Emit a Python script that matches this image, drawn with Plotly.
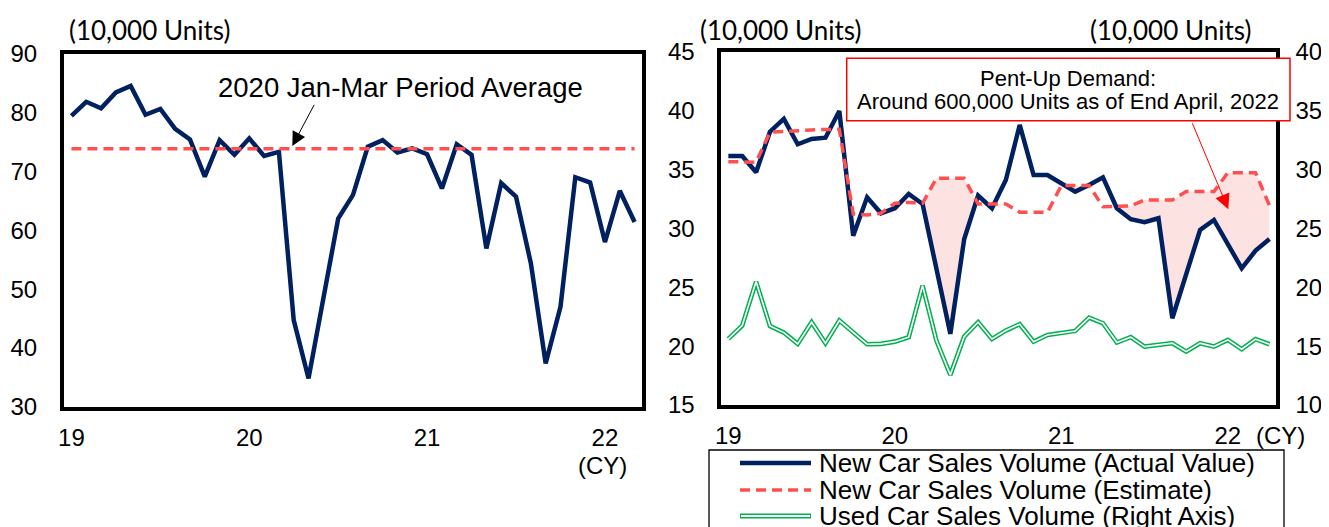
import plotly.graph_objects as go
import numpy as np

W, H = 1329, 527
PAGE_OFFSET = 8  # default page margin around the figure div

# ---------------- data ----------------
month_labels = [f"{y}-{m:02d}" for y in range(2019, 2023) for m in range(1, 13)]
months_left = month_labels[:39]    # Jan 2019 - Mar 2022
months_right = month_labels[:40]   # Jan 2019 - Apr 2022
year_ticks = ["2019-01", "2020-01", "2021-01", "2022-01"]
year_tick_text = ["19", "20", "21", "22"]

# Left panel: new car sales volume (10,000 units)
new_car_sales = [79.4, 81.8, 80.7, 83.4, 84.5, 79.6, 80.6, 77.2, 75.4, 69.1, 75.3, 72.8,
                 75.6, 72.6, 73.3, 44.75, 34.85, 48.15, 62.0, 66.0, 74.2, 75.3, 73.2, 73.9,
                 72.9, 67.1, 74.6, 72.8, 56.9, 68.0, 65.7, 54.4, 37.4, 47.0, 69.0, 68.1,
                 58.0, 66.7, 61.4]
jan_mar_2020_average = 73.85

# Right panel
new_car_actual = [36.15, 36.15, 34.76, 38.21, 39.29, 37.14, 37.59, 37.7, 39.97, 29.38, 32.64, 31.28,
                  31.71, 32.92, 32.07, 26.55, 21.04, 29.1, 32.78, 31.71, 34.11, 38.78, 34.53, 34.53,
                  33.83, 33.12, 33.68, 34.33, 31.71, 30.77, 30.52, 30.86, 22.37, 26.19, 29.86, 30.71,
                  28.68, 26.61, 28.11, 29.1]
new_car_estimate = [35.66, 35.66, 35.62, 38.16, 38.2, 38.3, 38.35, 38.4, 38.41, 31.22, 31.14, 31.28,
                    32.13, 32.2, 32.13, 34.25, 34.25, 34.25, 32.07, 32.07, 32.07, 31.37, 31.37, 31.37,
                    33.63, 33.63, 33.63, 31.84, 31.84, 31.9, 32.41, 32.41, 32.41, 33.12, 33.12, 33.12,
                    34.73, 34.73, 34.73, 31.93]
used_car_sales = [15.61, 16.74, 20.48, 16.71, 16.15, 15.19, 17.03, 15.25, 17.17, 16.15, 15.16, 15.19,
                  15.38, 15.76, 20.14, 15.45, 12.56, 15.81, 17.03, 15.61, 16.32, 16.86, 15.38, 15.95,
                  16.15, 16.29, 17.42, 16.94, 15.3, 15.76, 14.96, 15.1, 15.25, 14.53, 15.25, 14.96,
                  15.53, 14.74, 15.59, 15.16]
pent_up_start = 14  # shading of pent-up demand starts Mar 2020

legend_labels = ["New Car Sales Volume (Actual Value)",
                 "New Car Sales Volume (Estimate)",
                 "Used Car Sales Volume (Right Axis)"]

# ---------------- styles ----------------
NAVY = "#002060"
RED = "#FF5050"
GREEN = "#00B050"
PINK = "#FDE2E2"
FONT = "Liberation Sans, Arial, sans-serif"
LABEL_FONT = "Lato, Liberation Sans, sans-serif"


def px(x):
    return (x - PAGE_OFFSET) / W


def py(y):
    return 1 - (y - PAGE_OFFSET) / H


fig = go.Figure()

# Left panel
fig.add_trace(go.Scatter(x=months_left, y=new_car_sales, mode="lines",
                         line=dict(color=NAVY, width=4.5), xaxis="x", yaxis="y",
                         showlegend=False))
fig.add_trace(go.Scatter(x=months_left, y=[jan_mar_2020_average] * len(months_left), mode="lines",
                         line=dict(color=RED, width=3.5, dash="10px,6px"), xaxis="x", yaxis="y",
                         showlegend=False))

# Right panel: pent-up demand shading
act = np.array(new_car_actual)
est = np.array(new_car_estimate)
lower = np.minimum(act, est)
fig.add_trace(go.Scatter(x=months_right[pent_up_start:], y=lower[pent_up_start:], mode="lines",
                         line=dict(width=0, color=PINK), xaxis="x2", yaxis="y2",
                         showlegend=False, hoverinfo="skip"))
fig.add_trace(go.Scatter(x=months_right[pent_up_start:], y=est[pent_up_start:], mode="lines",
                         line=dict(width=0, color=PINK), fill="tonexty", fillcolor=PINK,
                         xaxis="x2", yaxis="y2", showlegend=False, hoverinfo="skip"))
# Used car (double line) on right axis
fig.add_trace(go.Scatter(x=months_right, y=used_car_sales, mode="lines",
                         line=dict(color=GREEN, width=4.6), xaxis="x2", yaxis="y3",
                         showlegend=False))
fig.add_trace(go.Scatter(x=months_right, y=used_car_sales, mode="lines",
                         line=dict(color="white", width=1.6), xaxis="x2", yaxis="y3",
                         showlegend=False, hoverinfo="skip"))
fig.add_trace(go.Scatter(x=months_right, y=new_car_actual, mode="lines",
                         line=dict(color=NAVY, width=4.5), xaxis="x2", yaxis="y2",
                         showlegend=False))
fig.add_trace(go.Scatter(x=months_right, y=new_car_estimate, mode="lines",
                         line=dict(color=RED, width=3.5, dash="10px,6px"), xaxis="x2", yaxis="y2",
                         showlegend=False))

axis_common = dict(showline=True, linewidth=4, linecolor="black", mirror=True,
                   showgrid=False, zeroline=False, ticks="", automargin=False,
                   tickfont=dict(family=FONT, size=24, color="black"))

fig.update_layout(
    width=W, height=H,
    margin=dict(l=0, r=0, t=0, b=0, pad=0, autoexpand=False),
    paper_bgcolor="white", plot_bgcolor="white",
    showlegend=False,
    xaxis=dict(domain=[px(64), px(642)], type="category", range=[-0.5, 38.5],
               categoryorder="array", categoryarray=months_left,
               tickmode="array", tickvals=year_ticks, ticktext=year_tick_text,
               ticklabelstandoff=6, anchor="y", **axis_common),
    yaxis=dict(domain=[py(407), py(53.5)], range=[30, 90], dtick=10,
               ticklabelstandoff=18, anchor="x", **axis_common),
    xaxis2=dict(domain=[px(721.4), px(1276.4)], type="category", range=[-0.5, 39.5],
                categoryorder="array", categoryarray=months_right,
                tickmode="array", tickvals=year_ticks, ticktext=year_tick_text,
                ticklabelstandoff=6, anchor="y2", **axis_common),
    yaxis2=dict(domain=[py(405), py(51.7)], range=[15, 45], dtick=5,
                ticklabelstandoff=18, anchor="x2", **axis_common),
    yaxis3=dict(range=[10, 40], dtick=5, overlaying="y2", side="right", anchor="x2",
                showline=False, showgrid=False, zeroline=False, ticks="", automargin=False,
                ticklabelstandoff=18,
                tickfont=dict(family=FONT, size=24, color="black")),
)

ann = []
# unit labels
for cx, txt in [(149, "(10,000 Units)"), (780, "(10,000 Units)"), (1170, "(10,000 Units)")]:
    ann.append(dict(x=px(cx), y=py(30), xref="paper", yref="paper", text=txt, showarrow=False,
                    xanchor="center", yanchor="middle",
                    font=dict(family=LABEL_FONT, size=26, color="black")))
# (CY)
ann.append(dict(x=px(602), y=py(465), xref="paper", yref="paper", text="(CY)", showarrow=False,
                xanchor="center", yanchor="middle", font=dict(family=FONT, size=24, color="black")))
ann.append(dict(x=px(1280), y=py(435), xref="paper", yref="paper", text="(CY)", showarrow=False,
                xanchor="center", yanchor="middle", font=dict(family=FONT, size=24, color="black")))
# left annotation
ann.append(dict(x=px(400), y=py(87), xref="paper", yref="paper",
                text="2020 Jan-Mar Period Average", showarrow=False,
                xanchor="center", yanchor="middle", font=dict(family=FONT, size=27.5, color="black")))
ann.append(dict(x=px(292.3), y=py(146), xref="paper", yref="paper", text="",
                showarrow=True, ax=315 - 292.3, ay=103.3 - 146, arrowcolor="black",
                arrowwidth=1, arrowhead=2, arrowsize=2.8))
# pent-up demand box text
ann.append(dict(x=px(1068.3), y=py(78), xref="paper", yref="paper", text="Pent-Up Demand:",
                showarrow=False, xanchor="center", yanchor="middle",
                font=dict(family=FONT, size=22, color="black")))
ann.append(dict(x=px(1068.3), y=py(102), xref="paper", yref="paper",
                text="Around 600,000 Units as of End April, 2022",
                showarrow=False, xanchor="center", yanchor="middle",
                font=dict(family=FONT, size=22, color="black")))
ann.append(dict(x=px(1228.3), y=py(209.3), xref="paper", yref="paper", text="",
                showarrow=True, ax=1191.7 - 1228.3, ay=121.7 - 209.3, arrowcolor="#FF0000",
                arrowwidth=1, arrowhead=2, arrowsize=3))
# legend texts
for yy, txt in zip([463, 490, 516], legend_labels):
    ann.append(dict(x=px(817), y=py(yy), xref="paper", yref="paper", text=txt, showarrow=False,
                    xanchor="left", yanchor="middle", font=dict(family=FONT, size=26, color="black")))

shapes = [
    # pent-up box
    dict(type="rect", xref="paper", yref="paper", x0=px(846.7), x1=px(1290), y0=py(120.7), y1=py(58.3),
         line=dict(color="#FF0000", width=1.5), fillcolor="white", layer="above"),
    # legend frame
    dict(type="rect", xref="paper", yref="paper", x0=px(709), x1=px(1284), y0=py(560), y1=py(450),
         line=dict(color="black", width=1.3), fillcolor="rgba(0,0,0,0)", layer="above"),
    dict(type="line", xref="paper", yref="paper", x0=px(740), x1=px(811), y0=py(463), y1=py(463),
         line=dict(color=NAVY, width=4.5)),
    dict(type="line", xref="paper", yref="paper", x0=px(740), x1=px(811), y0=py(490), y1=py(490),
         line=dict(color=RED, width=3.5, dash="10px,6px")),
    dict(type="line", xref="paper", yref="paper", x0=px(740), x1=px(811), y0=py(516), y1=py(516),
         line=dict(color=GREEN, width=5)),
    dict(type="line", xref="paper", yref="paper", x0=px(741), x1=px(810), y0=py(516), y1=py(516),
         line=dict(color="white", width=1.8)),
]

fig.update_layout(annotations=ann, shapes=shapes)
fig.write_html("out.html")
